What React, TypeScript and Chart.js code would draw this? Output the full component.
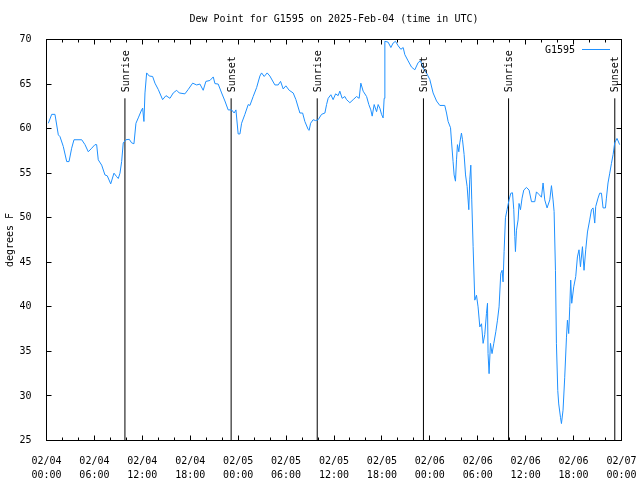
import React, { useEffect, useRef } from "react";
import { Chart, registerables } from "chart.js";

Chart.register(...registerables);

const TITLE = "Dew Point for G1595 on 2025-Feb-04 (time in UTC)";
const SERIES_NAME = "G1595";
const Y_LABEL = "degrees F";
const FONT = "'DejaVu Sans Mono', 'Liberation Mono', monospace";
const LINE_COLOR = "#1e90ff";

// hours since 2025-02-04 00:00 UTC
const hours = [
  0.23, 0.65, 1.06, 1.48, 1.69, 2.1, 2.53, 2.82, 3.15, 3.44, 4.41, 4.82, 5.23, 5.66, 6.07, 6.28,
  6.48, 6.91, 7.32, 7.61, 8.04, 8.45, 8.79, 8.99, 9.2, 9.41, 9.61, 9.95, 10.36, 10.66, 10.95,
  11.2, 11.49, 11.91, 12.04, 12.2, 12.33, 12.54, 12.87, 13.29, 13.58, 13.99, 14.54, 14.96,
  15.46, 15.87, 16.3, 16.62, 17.33, 17.75, 18.3, 18.8, 19.21, 19.62, 19.96, 20.46, 20.88,
  21.09, 21.5, 21.93, 22.34, 22.75, 23.18, 23.5, 23.72, 24.0, 24.22, 24.43, 24.84, 25.26,
  25.47, 25.88, 26.31, 26.72, 26.93, 27.26, 27.63, 27.97, 28.6, 29.01, 29.31, 29.64, 29.97,
  30.39, 30.89, 31.23, 31.73, 32.07, 32.35, 32.77, 32.89, 33.07, 33.39, 33.69, 34.02, 34.44,
  34.86, 35.07, 35.27, 35.61, 35.89, 36.2, 36.52, 36.73, 37.02, 37.36, 37.57, 37.77, 37.98,
  38.4, 38.82, 39.15, 39.36, 39.65, 40.08, 40.36, 40.61, 40.78, 41.03, 41.33, 41.53, 41.74,
  41.95, 42.15, 42.28, 42.37, 42.78, 43.12, 43.4, 43.7, 44.03, 44.37, 44.66, 44.87, 45.28,
  45.71, 46.12, 46.53, 46.83, 47.16, 47.58, 48.0, 48.41, 48.84, 49.25, 49.87, 50.09, 50.29,
  50.59, 50.71, 50.91, 51.04, 51.21, 51.34, 51.46, 51.63, 51.75, 51.96, 52.09, 52.29, 52.47,
  52.67, 52.88, 53.0, 53.13, 53.25, 53.42, 53.63, 53.84, 54.04, 54.26, 54.47, 54.67, 54.88,
  55.09, 55.22, 55.29, 55.42, 55.59, 55.79, 56.01, 56.26, 56.47, 56.67, 56.88, 57.05, 57.17,
  57.3, 57.47, 57.67, 57.92, 58.14, 58.35, 58.51, 58.64, 58.72, 58.85, 59.05, 59.17, 59.35,
  59.55, 59.76, 60.1, 60.43, 60.73, 61.14, 61.35, 61.68, 61.98, 62.18, 62.39, 62.68, 63.02,
  63.23, 63.43, 63.56, 63.73, 63.85, 64.02, 64.14, 64.36, 64.48, 64.68, 64.89, 65.11, 65.23,
  65.39, 65.52, 65.64, 65.77, 66.02, 66.27, 66.48, 66.68, 66.86, 67.11, 67.31, 67.52, 67.74,
  68.02, 68.24, 68.44, 68.65, 68.77, 69.06, 69.27, 69.49, 69.69, 69.99, 70.11, 70.31, 70.53,
  70.74, 70.95, 71.15, 71.44, 71.77,
];

const dewPoint = [
  60.6, 61.6, 61.6, 59.3, 59.1, 58.0, 56.3, 56.3, 57.8, 58.75, 58.75, 58.2, 57.4, 57.8, 58.2, 58.2,
  56.5, 55.9, 54.8, 54.7, 53.8, 55.0, 54.6, 54.4, 55.0, 56.3, 58.4, 58.75, 58.8, 58.4, 58.3,
  60.6, 61.2, 62.1, 62.3, 60.8, 64.0, 66.25, 65.9, 65.85, 65.1, 64.4, 63.25, 63.7,
  63.4, 64.0, 64.3, 64.0, 63.9, 64.4, 65.1, 64.9, 65.0, 64.3, 65.3, 65.4, 65.8,
  65.05, 65.0, 64.0, 63.1, 62.1, 62.1, 61.75, 62.1, 59.4, 59.4, 60.6, 61.6, 62.7,
  62.6, 63.6, 64.6, 65.9, 66.25, 65.85, 66.25, 65.9, 64.9, 64.9, 65.3, 64.45, 64.8,
  64.3, 64.0, 63.25, 61.75, 61.75, 60.8, 59.9, 59.8, 60.6, 61.0, 60.9, 61.0, 61.6,
  61.75, 62.7, 63.4, 63.8, 63.25, 63.9, 63.7, 64.2, 63.4, 63.6, 63.25, 63.1, 62.9,
  63.25, 63.6, 63.4, 65.1, 64.2, 63.6, 62.7, 62.1, 61.4, 62.7, 61.9, 62.7, 62.3,
  61.6, 61.2, 63.4, 69.8, 69.7, 69.1, 69.6, 69.8, 69.3, 68.9, 69.1, 68.3, 67.6,
  66.9, 66.6, 67.4, 67.6, 66.8, 66.25, 65.5, 64.0, 63.1, 62.6, 62.6, 61.75, 60.8,
  60.1, 58.6, 56.3, 54.8, 54.1, 56.5, 58.2, 57.4, 58.4, 59.5, 58.75, 57.1, 54.8,
  53.5, 50.9, 54.25, 55.9, 52.0, 46.75, 40.75, 41.3, 40.0, 37.75, 38.1, 35.9, 36.9,
  39.25, 40.4, 34.75, 32.5, 35.9, 34.75, 35.9, 37.2, 38.5, 40.0, 43.75, 44.1, 42.8,
  46.2, 50.0, 50.9, 52.0, 52.75, 52.8, 50.9, 47.9, 46.2, 48.6, 49.75, 51.6, 50.9,
  52.2, 53.1, 53.4, 53.1, 51.8, 51.8, 52.9, 52.6, 52.3, 53.9, 52.0, 51.1, 52.0,
  53.6, 52.0, 50.7, 44.1, 35.9, 30.6, 29.1, 27.6, 26.9, 28.4, 32.1, 36.6, 38.5,
  37.0, 40.0, 43.0, 40.4, 42.25, 43.4, 45.6, 46.4, 44.5, 46.75, 44.1, 46.4, 48.4,
  49.75, 50.9, 51.1, 49.4, 51.25, 52.2, 52.75, 52.75, 51.1, 51.1, 52.2, 53.9, 55.0,
  56.1, 57.1, 58.4, 58.9, 58.2,
];

const eventHours = [9.82, 23.12, 33.9, 47.2, 57.86, 71.16];
const eventLabels = ["Sunrise", "Sunset", "Sunrise", "Sunset", "Sunrise", "Sunset"];
const eventLineTop = 63.4;

const X_MIN = 0;
const X_MAX = 72;
const X_MAJOR = 6;
const X_MINOR = 2;
const Y_MIN = 25;
const Y_MAX = 70;
const Y_STEP = 5;

function pad2(n: number) {
  return n < 10 ? "0" + n : "" + n;
}

function tickLabel(h: number): string[] {
  const day = 4 + Math.floor(h / 24);
  const hr = Math.round(h % 24);
  return ["02/" + pad2(day), pad2(hr) + ":00"];
}

const framePlugin = {
  id: "gnuplotFrame",
  afterDraw(chart: any) {
    const { ctx, chartArea } = chart;
    const xs = chart.scales.x;
    const ys = chart.scales.y;
    const { left, right, top, bottom } = chartArea;
    ctx.save();
    ctx.strokeStyle = "#000";
    ctx.lineWidth = 1;
    ctx.beginPath();
    for (let v = Y_MIN; v <= Y_MAX; v += Y_STEP) {
      const py = Math.floor(ys.getPixelForValue(v)) + 0.5;
      ctx.moveTo(left, py);
      ctx.lineTo(left + 5, py);
      ctx.moveTo(right, py);
      ctx.lineTo(right - 5, py);
    }
    for (let h = X_MIN; h <= X_MAX; h += X_MINOR) {
      const len = h % X_MAJOR === 0 ? 5 : 3;
      const px = Math.floor(xs.getPixelForValue(h)) + 0.5;
      ctx.moveTo(px, bottom);
      ctx.lineTo(px, bottom - len);
      ctx.moveTo(px, top);
      ctx.lineTo(px, top + len);
    }
    ctx.stroke();
    ctx.strokeRect(left, top, right - left, bottom - top);

    ctx.fillStyle = "#000";
    ctx.font = "10px " + FONT;
    const labelBase = ys.getPixelForValue(eventLineTop) - 6;
    eventHours.forEach((h, i) => {
      const px = xs.getPixelForValue(h) + 1;
      ctx.save();
      ctx.translate(px, labelBase);
      ctx.rotate(-Math.PI / 2);
      ctx.textAlign = "left";
      ctx.textBaseline = "middle";
      ctx.fillText(eventLabels[i], 0, 0);
      ctx.restore();
    });

    ctx.textAlign = "center";
    ctx.textBaseline = "middle";
    ctx.fillText(TITLE, (left + right) / 2, 19);

    ctx.textAlign = "right";
    ctx.fillText(SERIES_NAME, 575, 50);
    ctx.strokeStyle = LINE_COLOR;
    ctx.beginPath();
    ctx.moveTo(582, 49.5);
    ctx.lineTo(610, 49.5);
    ctx.stroke();
    ctx.restore();
  },
};

export default function App() {
  const canvasRef = useRef<HTMLCanvasElement | null>(null);

  useEffect(() => {
    const canvas = canvasRef.current;
    if (!canvas) return;
    const points = hours.map((h, i) => ({ x: h, y: dewPoint[i] }));
    const eventSets = eventHours.map((h) => ({
      label: "event",
      data: [
        { x: h, y: Y_MIN },
        { x: h, y: eventLineTop },
      ],
      borderColor: "#000",
      borderWidth: 1,
      pointRadius: 0,
      showLine: true,
    }));

    const chart = new Chart(canvas, {
      type: "line",
      data: {
        datasets: [
          {
            label: SERIES_NAME,
            data: points,
            borderColor: LINE_COLOR,
            borderWidth: 1,
            pointRadius: 0,
            tension: 0,
            fill: false,
          },
          ...eventSets,
        ] as any,
      },
      plugins: [framePlugin],
      options: {
        animation: false,
        responsive: false,
        devicePixelRatio: 1,
        layout: { padding: { top: 39.5, right: 18.5, bottom: 0, left: 0 } },
        plugins: {
          legend: { display: false },
          title: { display: false },
          tooltip: { enabled: false },
        },
        scales: {
          x: {
            type: "linear",
            min: X_MIN,
            max: X_MAX,
            grid: { display: false },
            border: { display: false },
            afterFit: (s: any) => {
              s.height = 39.5;
              s.paddingLeft = 0;
              s.paddingRight = 0;
            },
            afterBuildTicks: (s: any) => {
              const t = [];
              for (let h = X_MIN; h <= X_MAX; h += X_MAJOR) t.push({ value: h });
              s.ticks = t;
            },
            ticks: {
              autoSkip: false,
              maxRotation: 0,
              minRotation: 0,
              padding: 5.5,
              color: "#000",
              font: { family: FONT, size: 10, lineHeight: 1.4 },
              callback: (v: any) => tickLabel(Number(v)),
            },
          },
          y: {
            type: "linear",
            min: Y_MIN,
            max: Y_MAX,
            grid: { display: false },
            border: { display: false },
            afterFit: (s: any) => {
              s.width = 46.5;
              s.paddingTop = 0;
              s.paddingBottom = 0;
            },
            ticks: {
              stepSize: Y_STEP,
              padding: 7,
              color: "#000",
              font: { family: FONT, size: 10 },
            },
            title: {
              display: true,
              text: Y_LABEL,
              color: "#000",
              font: { family: FONT, size: 10, lineHeight: 1.2 },
              padding: { top: 4.5, bottom: 0 },
            },
          },
        },
      } as any,
    });
    return () => chart.destroy();
  }, []);

  return (
    <div style={{ position: "fixed", left: 0, top: 0, width: 640, height: 480, background: "#fff" }}>
      <canvas ref={canvasRef} width={640} height={480} style={{ width: 640, height: 480 }} />
    </div>
  );
}
